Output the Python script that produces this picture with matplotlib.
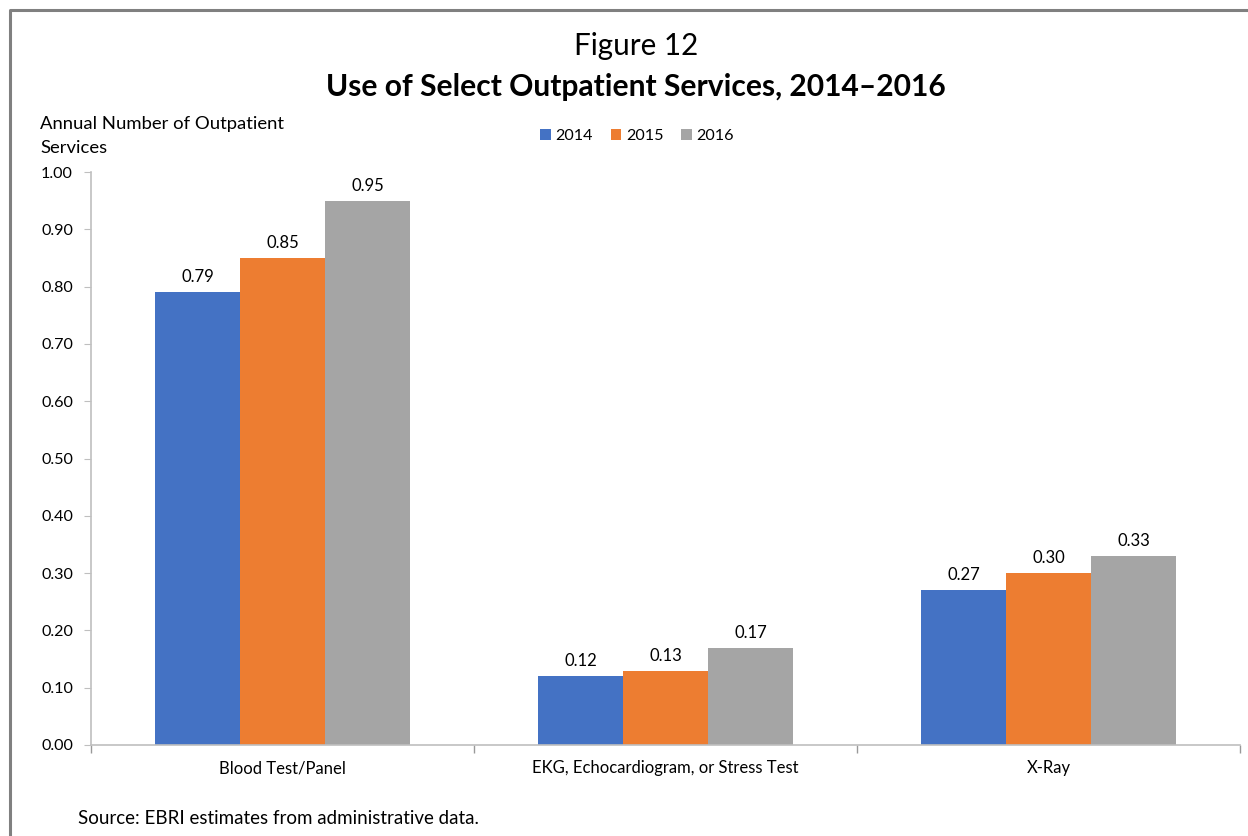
import matplotlib
matplotlib.use("Agg")
import matplotlib.pyplot as plt
from matplotlib.lines import Line2D
import numpy as np

plt.rcParams['font.family'] = ['Lato', 'DejaVu Sans']

categories = ["Blood Test/Panel", "EKG, Echocardiogram, or Stress Test", "X-Ray"]
years = ["2014", "2015", "2016"]
values_2014 = [0.79, 0.12, 0.27]
values_2015 = [0.85, 0.13, 0.30]
values_2016 = [0.95, 0.17, 0.33]
series = [values_2014, values_2015, values_2016]
colors = ["#4472C4", "#ED7D31", "#A5A5A5"]
y_ticks = [0.0, 0.1, 0.2, 0.3, 0.4, 0.5, 0.6, 0.7, 0.8, 0.9, 1.0]

W, H = 1248, 836
fig = plt.figure(figsize=(W / 100, H / 100), dpi=100)
ax = fig.add_axes([91 / W, 1 - 745 / H, (1240 - 91) / W, (745 - 172) / H])

x = np.arange(len(categories))
bw = 0.222
for i, (vals, col, yr) in enumerate(zip(series, colors, years)):
    pos = x + (i - 1) * bw
    ax.bar(pos, vals, width=bw, color=col, label=yr, zorder=2)
    for xp, v in zip(pos, vals):
        ax.text(xp, v + 0.012, f"{v:.2f}", ha="center", va="bottom",
                fontsize=12, color="#000000")

ax.set_xlim(-0.5, len(categories) - 0.5)
ax.set_ylim(0, 1.0)
ax.set_yticks(y_ticks)
ax.set_yticklabels([f"{t:.2f}" for t in y_ticks], fontsize=11.6)
ax.set_xticks(x)
ax.set_xticklabels(categories, fontsize=12)
ax.tick_params(axis="x", length=0, pad=11)
ax.tick_params(axis="y", length=5, color="#bfbfbf", pad=8)
# category separators on the x axis
ax.set_xticks(np.arange(len(categories) + 1) - 0.5, minor=True)
ax.tick_params(axis="x", which="minor", length=6, color="#999999", width=1)

for s in ["top", "right"]:
    ax.spines[s].set_visible(False)
for s in ["left", "bottom"]:
    ax.spines[s].set_color("#bfbfbf")
    ax.spines[s].set_linewidth(1.2)

fig.text(636 / W, 1 - 46 / H, "Figure 12", ha="center", va="center", fontsize=21.3)
fig.text(636 / W, 1 - 87 / H, "Use of Select Outpatient Services, 2014\u20132016",
         ha="center", va="center", fontsize=21.6, fontweight="bold")
fig.text(40 / W, 1 - 124 / H, "Annual Number of Outpatient", ha="left", va="center", fontsize=13.3)
fig.text(40 / W, 1 - 148 / H, "Services", ha="left", va="center", fontsize=13.3)

fig.legend(loc="center", bbox_to_anchor=(637 / W, 1 - 136 / H), ncol=3, frameon=False,
           fontsize=11.6, handlelength=0.65, handleheight=0.65, handletextpad=0.3,
           columnspacing=1.1)

fig.text(78 / W, 1 - 818 / H, "Source: EBRI estimates from administrative data.",
         ha="left", va="center", fontsize=13.5)

# outer frame
fig.add_artist(Line2D([9.5 / W, 9.5 / W, 1.0], [0.0, 1 - 9.5 / H, 1 - 9.5 / H],
                      transform=fig.transFigure, color="#808080", linewidth=2.2))

fig.savefig("out.png", dpi=100)
